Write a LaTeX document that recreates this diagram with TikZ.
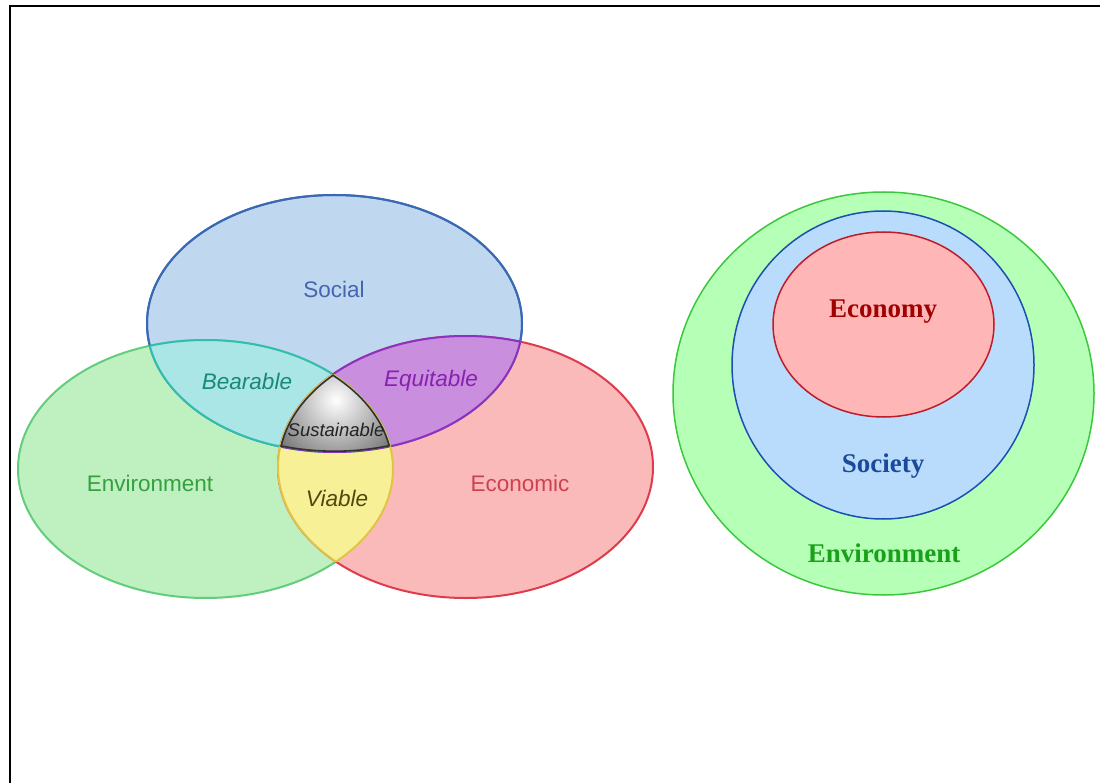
\documentclass[tikz,border=0pt]{standalone}
\usepackage{fontspec}
\setmainfont{Liberation Serif}
\newfontfamily\vennfont{Liberation Sans}
\newfontfamily\ringfont{Liberation Serif}
\definecolor{socfill}{RGB}{192,215,240}
\definecolor{socline}{RGB}{58,105,180}
\definecolor{soctext}{RGB}{70,100,176}
\definecolor{envfill}{RGB}{190,240,192}
\definecolor{envline}{RGB}{100,205,125}
\definecolor{envtext}{RGB}{52,160,64}
\definecolor{ecofill}{RGB}{250,186,186}
\definecolor{ecoline}{RGB}{222,60,76}
\definecolor{ecotext}{RGB}{208,64,80}
\definecolor{bearfill}{RGB}{170,230,230}
\definecolor{bearline}{RGB}{50,190,175}
\definecolor{beartext}{RGB}{26,136,120}
\definecolor{equifill}{RGB}{202,142,222}
\definecolor{equiline}{RGB}{140,50,190}
\definecolor{equitext}{RGB}{136,32,176}
\definecolor{viafill}{RGB}{248,240,150}
\definecolor{vialine}{RGB}{225,195,70}
\definecolor{viatext}{RGB}{80,72,16}
\definecolor{susline}{RGB}{50,50,50}
\definecolor{sustext}{RGB}{35,35,35}
\definecolor{rgfill}{RGB}{182,255,182}
\definecolor{rgline}{RGB}{60,200,60}
\definecolor{rgtext}{RGB}{26,160,26}
\definecolor{rbfill}{RGB}{186,220,252}
\definecolor{rbline}{RGB}{26,80,176}
\definecolor{rbtext}{RGB}{26,74,153}
\definecolor{rrfill}{RGB}{255,182,182}
\definecolor{rrline}{RGB}{192,28,40}
\definecolor{rrtext}{RGB}{160,0,0}
\begin{document}
\begin{tikzpicture}[x=1pt,y=-1pt,
  vlabel/.style={font=\vennfont\fontsize{22.5}{26}\selectfont, inner sep=0pt},
  vital/.style={font=\vennfont\itshape\fontsize{22.5}{26}\selectfont, inner sep=0pt},
  rlabel/.style={font=\ringfont\bfseries\fontsize{27}{30}\selectfont, inner sep=0pt},
  vline/.style={line width=2pt},
  rline/.style={line width=1.5pt}]
\useasboundingbox (0,0) rectangle (1100,783);
\fill[white] (0,0) rectangle (1100,783);
% frame (top and left edges visible)
\coordinate (fb) at (9.5,783);
\coordinate (fc) at (9.5,6);
\coordinate (fe) at (1100,6);
\draw[black, line width=2pt] (fb) -- (fc) -- (fe);

\def\SocP{(334.5,323.5) ellipse [x radius=187.5pt, y radius=128.5pt]}
\def\EnvP{(205.5,469) ellipse [x radius=187.5pt, y radius=129pt]}
\def\EcoP{(465.5,467) ellipse [x radius=187.5pt, y radius=131pt]}

% base ellipses
\filldraw[fill=socfill, draw=socline, vline] \SocP;
\filldraw[fill=envfill, draw=envline, vline] \EnvP;
\filldraw[fill=ecofill, draw=ecoline, vline] \EcoP;
\draw[socline, vline] \SocP;
% Bearable
\begin{scope}
  \clip \SocP;
  \fill[bearfill] \EnvP;
\end{scope}
% Equitable
\begin{scope}
  \clip \SocP;
  \fill[equifill] \EcoP;
\end{scope}
% Viable
\begin{scope}
  \clip \EnvP;
  \fill[viafill] \EcoP;
\end{scope}
% pair outlines
\begin{scope}
  \clip \SocP; \draw[bearline, vline] \EnvP;
\end{scope}
\begin{scope}
  \clip \EnvP; \draw[bearline, vline] \SocP;
\end{scope}
\begin{scope}
  \clip \SocP; \draw[equiline, vline] \EcoP;
\end{scope}
\begin{scope}
  \clip \EcoP; \draw[equiline, vline] \SocP;
\end{scope}
\begin{scope}
  \clip \EnvP; \draw[vialine, vline] \EcoP;
\end{scope}
\begin{scope}
  \clip \EcoP; \draw[vialine, vline] \EnvP;
\end{scope}
% Sustainable
\begin{scope}
  \clip \SocP;
  \clip \EnvP;
  \clip \EcoP;
  \shade[inner color=white, outer color=black!72] (336,400) circle [radius=95pt];
  \draw[susline, line width=3.2pt] \SocP;
  \draw[susline, line width=3.2pt] \EnvP;
  \draw[susline, line width=3.2pt] \EcoP;
\end{scope}

% Venn labels
\node[vlabel, text=soctext] (social) at (334,289) {Social};
\node[vlabel, text=envtext] (environment) at (150,483) {Environment};
\node[vlabel, text=ecotext] (economic) at (520,483) {Economic};
\node[vital, text=beartext] (bearable) at (247,381) {Bearable};
\node[vital, text=equitext] (equitable) at (431,381) {Equitable};
\node[vital, text=viatext] (viable) at (337,498) {Viable};
\node[vital, text=sustext, font=\vennfont\itshape\fontsize{18.5}{21}\selectfont] (sustainable) at (336,430) {Sustainable};

% nested ellipses
\filldraw[fill=rgfill, draw=rgline, rline] (883.5,393.5) ellipse [x radius=210.5pt, y radius=201.5pt];
\filldraw[fill=rbfill, draw=rbline, rline] (883,365) ellipse [x radius=151pt, y radius=154pt];
\filldraw[fill=rrfill, draw=rrline, rline] (883.5,324.5) ellipse [x radius=110.5pt, y radius=92.5pt];
\node[rlabel, text=rrtext] (economy) at (883,312) {Economy};
\node[rlabel, text=rbtext] (society) at (883,466) {Society};
\node[rlabel, text=rgtext] (environment2) at (884,553) {Environment};
\end{tikzpicture}
\end{document}
